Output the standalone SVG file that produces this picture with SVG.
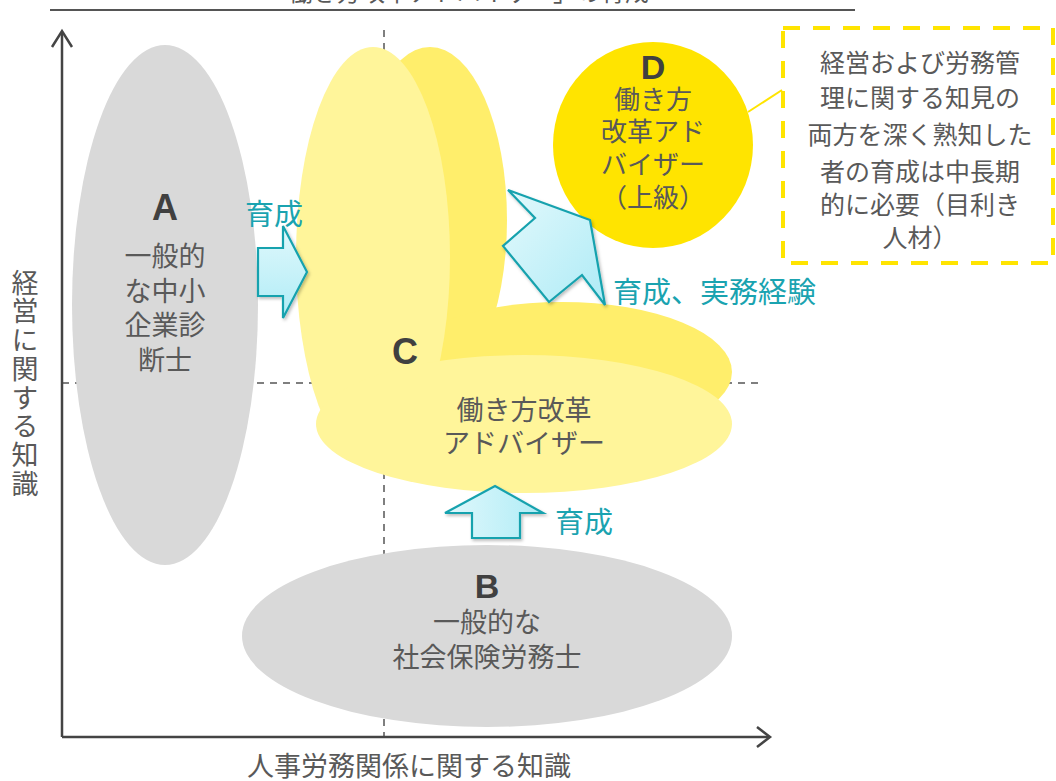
<svg xmlns="http://www.w3.org/2000/svg" width="1056" height="781" viewBox="0 0 1056 781">
<style>
.jp{font-family:"Noto Sans CJK JP","Noto Sans",sans-serif;fill:#595959;text-anchor:middle}
.lt{font-family:"Liberation Sans","DejaVu Sans",sans-serif;font-weight:bold;fill:#404040;text-anchor:middle}
.tl{font-family:"Noto Sans CJK JP","Noto Sans",sans-serif;fill:#1aa3b0}
.axis{stroke:#444;stroke-width:2.5;fill:none}
.dash{stroke:#555;stroke-width:1.5;stroke-dasharray:7,6;fill:none}
.arr{stroke:#17a2ae;stroke-width:2.2;stroke-linejoin:miter}
</style>
<defs>
<linearGradient id="gV" x1="0" y1="0" x2="0" y2="1"><stop offset="0" stop-color="#e0f8fc"/><stop offset="1" stop-color="#b0ecf6"/></linearGradient>
<linearGradient id="gH" x1="0" y1="0" x2="1" y2="0"><stop offset="0" stop-color="#e0f8fc"/><stop offset="1" stop-color="#b0ecf6"/></linearGradient>
<linearGradient id="gD" x1="0" y1="0" x2="1" y2="1"><stop offset="0" stop-color="#e3f9fc"/><stop offset="1" stop-color="#aeebf6"/></linearGradient>
<filter id="sh" x="-20%" y="-20%" width="140%" height="140%"><feDropShadow dx="1.5" dy="2" stdDeviation="1.5" flood-color="#000" flood-opacity="0.25"/></filter>
</defs>

<!-- title (cut off at top) -->
<text x="265" y="1" font-family="Noto Sans CJK JP,sans-serif" font-size="24" fill="#595959">「働き方改革アドバイザー」の育成</text>
<line x1="50" y1="10" x2="855" y2="10" stroke="#555" stroke-width="2"/>

<!-- guide lines -->
<g id="guides">
<line class="dash" x1="384" y1="30" x2="384" y2="737"/>
<line class="dash" x1="62" y1="383" x2="760" y2="383"/>
</g>

<!-- axes -->
<g id="axes">
<line class="axis" x1="62" y1="737" x2="62" y2="32"/>
<polyline class="axis" points="52,47 62,31 72,47"/>
<line class="axis" x1="62" y1="737" x2="768" y2="737"/>
<polyline class="axis" points="757,727 770,737 757,747"/>
<text x="25" y="269" font-family="Noto Sans CJK JP,sans-serif" font-size="27" fill="#595959" style="writing-mode:vertical-rl" letter-spacing="1.7">経営に関する知識</text>
<text class="jp" x="409" y="776" font-size="27">人事労務関係に関する知識</text>
</g>

<!-- A -->
<g id="nodeA">
<ellipse cx="165" cy="305" rx="93" ry="260" fill="#d9d9d9"/>
<text class="lt" x="165" y="220" font-size="36">A</text>
<g class="jp" font-size="27"><text x="165" y="266">一般的</text><text x="165" y="301">な中小</text><text x="165" y="335">企業診</text><text x="165" y="370">断士</text></g>
</g>

<!-- B -->
<g id="nodeB">
<ellipse cx="487" cy="636" rx="245" ry="91" fill="#d9d9d9"/>
<text class="lt" x="487" y="598" font-size="34">B</text>
<g class="jp" font-size="27"><text x="487" y="632">一般的な</text><text x="487" y="667">社会保険労務士</text></g>
</g>

<!-- C -->
<g id="nodeC">
<ellipse cx="430" cy="220" rx="77" ry="173" fill="#ffee6b"/>
<ellipse cx="562" cy="372" rx="170" ry="70" fill="#ffee6b"/>
<ellipse cx="373" cy="257" rx="77" ry="210" fill="#fff59a"/>
<ellipse cx="524" cy="424" rx="208" ry="69" fill="#fff59a"/>
<text class="lt" x="405" y="364" font-size="36">C</text>
<g class="jp" font-size="27"><text x="524" y="420">働き方改革</text><text x="524" y="453">アドバイザー</text></g>
</g>

<!-- D -->
<g id="nodeD">
<ellipse cx="653" cy="145" rx="100" ry="103" fill="#ffe400"/>
<text class="lt" x="653" y="79" font-size="34">D</text>
<g class="jp" font-size="26"><text x="653" y="109">働き方</text><text x="653" y="141">改革アド</text><text x="653" y="174">バイザー</text><text x="653" y="207">（上級）</text></g>
</g>

<!-- note box -->
<g id="note">
<line x1="748" y1="112" x2="782" y2="90" stroke="#ffe400" stroke-width="2"/>
<rect x="783" y="28" width="270" height="235" fill="#fff" stroke="#ffe400" stroke-width="4" stroke-dasharray="17,13"/>
<g class="jp" font-size="25">
<text x="920" y="72">経営および労務管</text>
<text x="920" y="107">理に関する知見の</text>
<text x="920" y="144">両方を深く熟知した</text>
<text x="920" y="181">者の育成は中長期</text>
<text x="920" y="214">的に必要（目利き</text>
<text x="920" y="247">人材）</text>
</g>
</g>

<!-- connectors -->
<g id="connectors">
<polygon class="arr" filter="url(#sh)" fill="url(#gV)" points="258,248 283,248 283,226 307,272 283,318 283,296 258,296"/>
<text class="tl" x="245" y="225" font-size="29">育成</text>
<polygon class="arr" filter="url(#sh)" fill="url(#gH)" points="495,486 543,513 520,513 520,538 472,538 472,513 445,513"/>
<text class="tl" x="555" y="533" font-size="29">育成</text>
<polygon class="arr" filter="url(#sh)" fill="url(#gD)" points="590,220 508,190 535,218 503,246 549,302 582,275 605,305"/>
<text class="tl" x="613" y="303" font-size="29">育成、実務経験</text>
</g>
</svg>
